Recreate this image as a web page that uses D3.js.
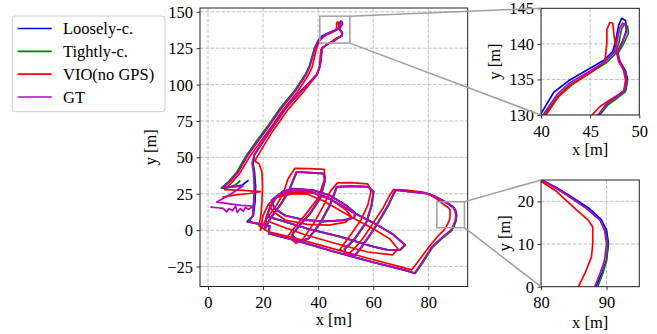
<!DOCTYPE html>
<html><head><meta charset="utf-8">
<script src="https://cdn.jsdelivr.net/npm/d3@7"></script>
<style>
html,body{margin:0;padding:0;background:#fff;}
</style></head>
<body>
<svg id="chart" width="657" height="334"></svg>
<script>
// ---------------- DATA ----------------
const seriesNames = ["Loosely-c.", "Tightly-c.", "VIO(no GPS)", "GT"];
const seriesColors = ["#0000ff", "#008000", "#ff0000", "#bf00bf"];

const mainXTicks = [0, 20, 40, 60, 80];
const mainYTicks = [-25, 0, 25, 50, 75, 100, 125, 150];
const inset1XTicks = [40, 45, 50];
const inset1YTicks = [130, 135, 140, 145];
const inset2XTicks = [80, 90];
const inset2YTicks = [0, 10, 20];

const mainXDomain = [-2.9, 94.3];
const mainYDomain = [-38.7, 152.6];
const inset1XDomain = [40, 50];
const inset1YDomain = [130, 145];
const inset2XDomain = [80, 95];
const inset2YDomain = [0, 25];
// zoom boxes as drawn on the main axes
const zoomBox1 = [[40.6, 128.5], [51.5, 147.0]];
const zoomBox2 = [[83.1, 1.7], [93.1, 19.5]];

const gtPath = [
[1.2,15.8],[3.5,15.4],[5.5,15.0],[6.8,12.5],[7.6,14.8],[9.0,13.4],[10.0,16.5],[10.6,12.2],[11.8,14.9],[12.8,12.9],[13.6,15.6],[14.8,14.3],[16.4,16.6],[12,17],[3.2,19.3],[8,24.5],[12.8,30.5],[9,29.5],[5.5,29.3],
[8,33.5],[11,40],[14.6,51.8],[18.5,62],[22.5,72.4],[26.7,83.8],[31.6,95.3],[35.6,106.7],[37,112.5],[38.2,120.5],[38.8,125],[40.2,130],[41.6,132.8],[42.9,134.5],[45,136.2],[46.5,137.5],[47.4,138.7],[47.7,140.1],[48,142.2],[48.3,142.9],[48.6,142.7],[48.7,141.7],[48.2,140.1],[47.7,138.7],[47.9,137.5],[48.5,136.1],[48.7,134.9],[48.5,133.5],[47.7,132.6],[46.7,131.6],[45.8,130],[43.5,128],[41.3,125],[41,118.5],[40.6,112.5],[39.4,106.7],[33.6,95.3],[28.2,83.8],[22.6,68.5],[16.8,51.8],
[16,46],[16.5,40],[16.8,30],[16.6,20],[16.2,10],[15,5.7],[18.5,4.5],[22.3,3],[22,-2.3],
[31.5,-6.9],[46,-14.9],[59.3,-21.8],[71.4,-27.5],[75,-29.6],
[77.5,-22.7],[81.3,-11.4],[85,-5],[88.2,0],[89,3.1],[89.7,6.2],[90,10.1],[89.7,13.2],[89,15.6],[87,18.3],[84.4,21],[82.4,23],[80.1,25],[78.8,25.3],[73,26.5],[68,27.5],
[67.2,24.5],[65.4,17.2],[61.8,5.7],[58.7,-3.4],[55.7,-11.4],[53.3,-17.2],[50,-16.5],
[49.5,-13],[53.3,-5.7],[57.5,5.7],[59.3,17.2],[60,26.3],[58.1,29.8],[52,30.2],[46.7,29.8],[44.2,17.2],[40.6,4.6],[36.4,-5.7],[33,-8],
[30.3,-3.4],[32.7,2.3],[37,11.5],[40.6,21.8],[42.4,34.3],[41.8,38.9],[37,39.5],[32.1,40],[29.1,26.3],[26.1,17.2],[22.5,8],[20.5,0.5],
[21,8],[22.5,16],[24.5,22],[27,26.5],[31,28.4],[38,27.5],[44,24],[50,17],[53.3,12],[53,8.5],[49,6.8],[42,6],[35,7],[28,10],[24,15],[23,20.5],[26,25],[31,27.2],[37,26.5],[43,22.7],[53.4,11.4],[60,5],[66.7,-2.3],[71.5,-10.2],[69.6,-13.6],[65,-13.5],[60,-11.4],[47.9,-4.5],[35.8,1.1],[26.1,6.8],[22,9]
];

const looselyPath = [
[14.5,34],[12.5,31],[8.5,29.6],[5.2,29.0],[7.8,33.3],[10.8,39.8],[14.4,51.7],[18.3,62],[22.4,72.5],[26.6,84],[31.5,95.4],[35.5,106.8],[36.9,112.6],[38.1,120.6],[38.7,125.2],[40.0,130.2],[41.3,133.2],[42.8,134.8],[44.9,136.5],[46.4,137.7],[47.3,138.9],[47.6,140.5],[47.9,142.6],[48.2,143.6],[48.6,143.3],[48.7,142.0],[48.3,140.3],[47.8,138.9],[48.0,137.6],[48.6,136.2],[48.8,135.0],[48.6,133.6],[47.8,132.7],[46.8,131.7],[45.9,130.1],[43.6,128.1],[41.4,125.1],[41.1,118.6],[40.7,112.6],[39.5,106.8],[33.7,95.4],[28.3,83.9],[22.7,68.6],[16.9,51.9],
[16.3,46],[16.9,40],[17.3,30],[17.1,20],[16.5,10],[14.2,5.8],[18.5,4.2],[22.5,2.8],[22.1,-2.2],[31.6,-6.8],[46.1,-14.8],[59.4,-21.7],[71.5,-27.4],[75.1,-29.5],
[77.7,-22.6],[81.5,-11.3],[85.2,-4.9],[88.4,0.1],[89.3,3.2],[90.0,6.3],[90.3,10.1],[90.0,13.3],[89.2,15.7],[87.2,18.5],[84.5,21.2],[82.4,23.2],[80.0,25.1],[78.8,25.4],[73,26.6],[68.1,27.6],
[67.3,24.6],[65.5,17.3],[61.9,5.8],[58.8,-3.3],[55.8,-11.3],[53.4,-17.1],[50.1,-16.4],[49.6,-12.9],[53.4,-5.6],[57.6,5.8],[59.4,17.3],[60.1,26.4],[58.2,29.9],[52,30.3],[46.8,29.9],[44.3,17.3],[40.7,4.7],[36.5,-5.6],[33.1,-7.9],
[30.4,-3.3],[32.8,2.4],[37.1,11.6],[40.7,21.9],[42.5,34.4],[41.9,39],[37,39.6],[32.2,40.1],[29.2,26.4],[26.2,17.3],[22.6,8.1],[20.6,0.6],
[21.1,8.1],[22.6,16.1],[24.6,22.1],[27.1,26.6],[31.1,28.5],[38.1,27.6],[44.1,24.1],[50.1,17.1],[53.4,12.1],[53.1,8.6],[49.1,6.9],[42.1,6.1],[35.1,7.1],[28.1,10.1],[24.1,15.1],[23.1,20.6],[26.1,25.1],[31.1,27.3],[37.1,26.6],[43.1,22.8],[53.5,11.5],[60.1,5.1],[66.8,-2.2],[71.6,-10.1],[69.7,-13.5],[65.1,-13.4],[60.1,-11.3],[48,-4.4],[35.9,1.2],[26.2,6.9],[22.1,9.1]
];

const tightlyPath = [
[11.5,33.6],[10,31.2],[7.5,29.4],[4.8,28.8],[7.4,33.2],[10.4,39.8],[14.1,51.8],[18.0,62.1],[22.1,72.6],[26.3,84.1],[31.3,95.5],[35.3,106.9],[36.8,112.7],[38.0,120.6],[38.8,125.1],[40.3,129.9],[41.7,132.6],[43.0,134.3],[45.1,136.0],[46.6,137.3],[47.5,138.5],[47.9,140.0],[48.2,142.1],[48.5,142.8],[48.8,142.5],[48.9,141.5],[48.4,140.0],[47.8,138.6],[48.0,137.4],[48.6,136.0],[48.8,134.7],[48.6,133.3],[47.8,132.4],[46.8,131.4],[45.9,129.9],[43.6,127.9],[41.4,124.9],[41.1,118.4],[40.7,112.4],[39.5,106.6],[33.7,95.2],[28.3,83.7],[22.7,68.4],[16.9,51.7],
[16.2,46],[16.7,40],[17.0,30],[16.8,20],[16.3,10],[14.6,5.6],[18.5,4.3],[22.4,2.9],[22.1,-2.4],[31.6,-7.0],[46.1,-15.0],[59.4,-21.9],[71.5,-27.6],[75.2,-29.8],
[77.8,-22.9],[81.6,-11.6],[85.3,-5.2],[88.6,-0.2],[89.4,3.0],[90.0,6.1],[90.2,10.0],[89.8,13.1],[89.1,15.5],[87.1,18.2],[84.5,20.9],[82.5,22.9],[80.2,24.9],[78.9,25.2],[73.1,26.4],[68.2,27.4],
[67.4,24.4],[65.6,17.1],[62.0,5.6],[58.9,-3.5],[55.9,-11.5],[53.5,-17.3],[50.1,-16.6],[49.7,-13.1],[53.5,-5.8],[57.7,5.6],[59.5,17.1],[60.2,26.2],[58.3,29.7],[52.1,30.1],[46.9,29.7],[44.4,17.1],[40.8,4.5],[36.6,-5.8],[33.1,-8.1],
[30.5,-3.5],[32.9,2.2],[37.2,11.4],[40.8,21.7],[42.6,34.2],[42.0,38.8],[37.1,39.4],[32.3,39.9],[29.3,26.2],[26.3,17.1],[22.7,7.9],[20.7,0.4],
[21.2,7.9],[22.7,15.9],[24.7,21.9],[27.2,26.4],[31.2,28.3],[38.2,27.4],[44.2,23.9],[50.2,16.9],[53.5,11.9],[53.2,8.4],[49.2,6.7],[42.2,5.9],[35.2,6.9],[28.2,9.9],[24.2,14.9],[23.2,20.4],[26.2,24.9],[31.2,27.1],[37.2,26.4],[43.2,22.6],[53.6,11.3],[60.2,4.9],[66.9,-2.4],[71.7,-10.3],[69.8,-13.7],[65.2,-13.6],[60.2,-11.5],[48.1,-4.6],[36.0,1.0],[26.3,6.7],[22.2,8.9]
];

const vioPath = [
[5.5,22.8],[10,24.2],[15,25.2],[19,26.5],[13,27.3],[6,27.8],[8.5,32.5],[11.5,39],[15.3,51],[19.2,61],[23.2,71.5],[27.4,83],[32.3,94.5],[36.3,106],[37.8,112],[38.8,120],[39.4,125],[40.5,130],[41.8,132.6],[43.1,134.2],[45.1,136],[46.5,137.5],[46.7,140.1],[46.7,142],[47,143],[47.3,142.9],[47.4,141.5],[47.6,139.6],[47.9,138],[48.4,136.3],[48.6,134.9],[48.4,133.3],[47,132.1],[46,131.2],[45.2,130],[42.8,127],[41,124],[40.7,118],[40.4,112],[39.7,107],[34.6,95],[29.1,83],[23.3,67.5],[18.2,51.5],
[17,47.5],[18.6,45.5],[19.6,40],[19.8,30],[19.6,20],[19.2,10],[18.5,3],[22,-1.2],[31.5,-5.5],[46,-13],[59,-19.8],[70,-25.2],[73.9,-27.3],
[76.5,-21],[80,-12],[83.5,-4],[85.7,0],[86.7,3.1],[87.7,7],[87.9,10.1],[87.9,14],[87.2,15.6],[85.4,18],[82.4,22.3],[80.1,24.6],[78,26.2],[72,27.6],[67.4,27.9],
[66,24],[63.5,15],[60,5],[56.5,-5],[53,-13],[50.5,-17],[48,-13],[51.5,-4],[55.5,7],[58,17],[59.2,27],[58,31.8],[52,32.6],[47,32.5],[44.5,27],[42,17],[38.5,5],[34.5,-6],[32,-9],
[29,-4],[31.5,2],[35.5,11],[40,22],[42.5,36],[42.2,41.8],[37,42.2],[31.5,42.4],[29,35],[27.3,25],[24.5,16],[21,7],[19,0],
[20,10],[22,18],[26,24],[31,26.2],[38,25.5],[45,20.5],[50,14],[52,9.5],[50,5.5],[44,3.5],[36,4],[28,7],[23.5,13],[22,18],[25,22.5],[31,25],[36,24.8],[42,20],[52,9],[60,1],[66,-6],[69,-13],[67,-17],[58,-15],[46,-9],[35,-3],[26,3],[22,6]
];

const seriesData = [looselyPath, tightlyPath, vioPath, gtPath];

// ---------------- DRAWING ----------------
const svg = d3.select("#chart");
const FONT = 16.5;
const FAMILY = "'Liberation Serif', 'Times New Roman', serif";
const gridColor = "#b0b0b0";
const boxColor = "#a0a0a0";

function fmt(v){ return v < 0 ? "\u2212" + Math.abs(v) : String(v); }
function styleText(sel){ return sel.style("font-family", FAMILY).style("font-size", FONT + "px").style("fill", "#000"); }

function drawAxes(cfg){
  const x = d3.scaleLinear().domain(cfg.xDomain).range([cfg.left, cfg.right]);
  const y = d3.scaleLinear().domain(cfg.yDomain).range([cfg.bottom, cfg.top]);
  const g = svg.append("g");
  const clipId = "clip-" + cfg.id;
  svg.append("clipPath").attr("id", clipId).append("rect")
    .attr("x", cfg.left).attr("y", cfg.top)
    .attr("width", cfg.right - cfg.left).attr("height", cfg.bottom - cfg.top);

  const grid = g.append("g").attr("clip-path", `url(#${clipId})`);
  cfg.xTicks.forEach(t => {
    grid.append("line").attr("x1", x(t)).attr("x2", x(t)).attr("y1", cfg.top).attr("y2", cfg.bottom)
      .attr("stroke", gridColor).attr("stroke-width", 0.8).attr("stroke-dasharray", "3.7,1.6");
  });
  cfg.yTicks.forEach(t => {
    grid.append("line").attr("y1", y(t)).attr("y2", y(t)).attr("x1", cfg.left).attr("x2", cfg.right)
      .attr("stroke", gridColor).attr("stroke-width", 0.8).attr("stroke-dasharray", "3.7,1.6");
  });

  const line = d3.line().x(d => x(d[0])).y(d => y(d[1]));
  const data = g.append("g").attr("clip-path", `url(#${clipId})`);
  seriesData.forEach((s, i) => {
    data.append("path").attr("d", line(s)).attr("fill", "none")
      .attr("stroke", seriesColors[i]).attr("stroke-width", 1.7)
      .attr("stroke-linejoin", "round").attr("stroke-linecap", "square");
  });

  const xAxis = d3.axisBottom(x).tickValues(cfg.xTicks).tickFormat(fmt).tickSizeOuter(0).tickSize(3.5).tickPadding(3.5);
  const yAxis = d3.axisLeft(y).tickValues(cfg.yTicks).tickFormat(fmt).tickSizeOuter(0).tickSize(3.5).tickPadding(3.5);
  const gx = g.append("g").attr("transform", `translate(0,${cfg.bottom})`).call(xAxis);
  const gy = g.append("g").attr("transform", `translate(${cfg.left},0)`).call(yAxis);
  [gx, gy].forEach(a => {
    a.select(".domain").remove();
    a.selectAll(".tick line").attr("stroke", "#000").attr("stroke-width", 0.8);
    styleText(a.selectAll(".tick text"));
  });
  gx.selectAll(".tick text").attr("dy", null).attr("y", 21.5);
  gy.selectAll(".tick text").attr("dy", null).attr("transform", "translate(0,5.5)");

  g.append("rect").attr("x", cfg.left).attr("y", cfg.top)
    .attr("width", cfg.right - cfg.left).attr("height", cfg.bottom - cfg.top)
    .attr("fill", "none").attr("stroke", "#222").attr("stroke-width", 1);

  styleText(g.append("text").attr("x", (cfg.left + cfg.right) / 2).attr("y", cfg.xLabelY)
    .attr("text-anchor", "middle")).text("x [m]");
  styleText(g.append("text").attr("transform", `translate(${cfg.yLabelX},${(cfg.top + cfg.bottom) / 2}) rotate(-90)`)
    .attr("text-anchor", "middle")).text("y [m]");
  return {x, y, g};
}

const main = drawAxes({id: "main", left: 200, right: 467.7, top: 8, bottom: 286.5,
  xDomain: mainXDomain, yDomain: mainYDomain, xTicks: mainXTicks, yTicks: mainYTicks,
  xLabelY: 324.5, yLabelX: 155.5});
const in1 = drawAxes({id: "in1", left: 541, right: 639.3, top: 8.3, bottom: 115,
  xDomain: inset1XDomain, yDomain: inset1YDomain, xTicks: inset1XTicks, yTicks: inset1YTicks,
  xLabelY: 154.5, yLabelX: 499.5});
const in2 = drawAxes({id: "in2", left: 541, right: 639.3, top: 180, bottom: 286.7,
  xDomain: inset2XDomain, yDomain: inset2YDomain, xTicks: inset2XTicks, yTicks: inset2YTicks,
  xLabelY: 327.5, yLabelX: 509.5});

function zoomBox(box, inset){
  const x0 = main.x(box[0][0]), x1 = main.x(box[1][0]);
  const y0 = main.y(box[1][1]), y1 = main.y(box[0][1]);
  svg.append("rect").attr("x", x0).attr("y", y0).attr("width", x1 - x0).attr("height", y1 - y0)
    .attr("fill", "none").attr("stroke", boxColor).attr("stroke-width", 1.5);
  const ix = inset.x.range()[0];
  const iyTop = inset.y.range()[1], iyBot = inset.y.range()[0];
  svg.append("line").attr("x1", x1).attr("y1", y0).attr("x2", ix).attr("y2", iyTop)
    .attr("stroke", boxColor).attr("stroke-width", 1.5);
  svg.append("line").attr("x1", x1).attr("y1", y1).attr("x2", ix).attr("y2", iyBot)
    .attr("stroke", boxColor).attr("stroke-width", 1.5);
}
zoomBox(zoomBox1, in1);
zoomBox(zoomBox2, in2);

const leg = svg.append("g");
leg.append("rect").attr("x", 12.3).attr("y", 16).attr("width", 152.7).attr("height", 95.7)
  .attr("rx", 3).attr("fill", "#fff").attr("fill-opacity", 0.8).attr("stroke", "#cccccc").attr("stroke-width", 1);
const rowY = d3.scaleLinear().domain([0, 3]).range([28.5, 97]);
seriesNames.forEach((name, i) => {
  leg.append("line").attr("x1", 17.7).attr("x2", 51.7).attr("y1", rowY(i)).attr("y2", rowY(i))
    .attr("stroke", seriesColors[i]).attr("stroke-width", 1.7);
  styleText(leg.append("text").attr("x", 63).attr("y", rowY(i) + 5.5)).text(name);
});
</script>
</body></html>
